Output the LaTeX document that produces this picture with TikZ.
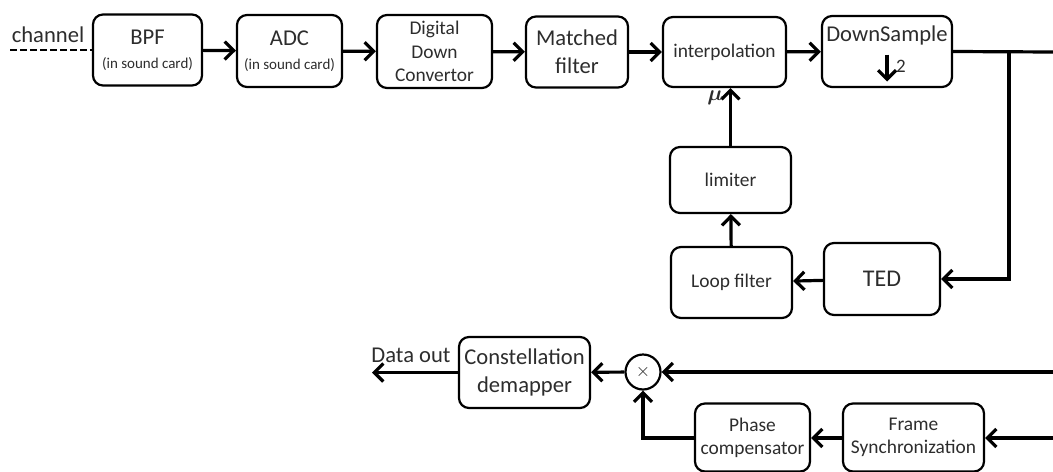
\documentclass[tikz,border=0pt]{standalone}
\usepackage{amsmath}
\usepackage{fontspec}
\setmainfont{Carlito}
\usepackage{tikz}
\usetikzlibrary{arrows.meta, positioning, calc}
\definecolor{mytext}{RGB}{45,45,45}
\tikzset{
  block/.style={rectangle, draw=black, fill=white, rounded corners=5pt,
    line width=1.1pt, align=center, inner sep=1pt, text=mytext,
    font=\fontsize{11.3}{14}\selectfont},
  midblock/.style={block, font=\fontsize{9.7}{11.6}\selectfont},
  mult/.style={circle, draw=black, fill=white, line width=1.1pt,
    minimum size=17.5pt, inner sep=0pt, text=mytext},
  lbl/.style={text=mytext, inner sep=0pt, font=\fontsize{11.3}{14}\selectfont},
  arrow/.style={-{Straight Barb[length=4.5pt, width=9pt, line width=1.6pt]},
    line width=1.6pt},
  line/.style={line width=1.6pt}
}

\begin{document}
\begin{tikzpicture}[x=0.5pt, y=-0.5pt]
  \clip (0,0) rectangle (1053,471);

  % ── Front end ─────────────────────────────────────────────────────
  \node[block, minimum width=54.5pt, minimum height=35.5pt] (bpf) at (147.5,50)
    {BPF\\[-2pt]{\fontsize{7.5}{9}\selectfont (in sound card)}};
  \node[block, minimum width=52.5pt, minimum height=36pt] (adc) at (289.5,51)
    {ADC\\[-2pt]{\fontsize{7.5}{9}\selectfont (in sound card)}};
  \node[midblock, minimum width=57.5pt, minimum height=36.5pt] (ddc) at (434.5,51.5)
    {Digital\\Down\\Convertor};
  \node[block, minimum width=51pt, minimum height=35.5pt] (mf) at (577,52)
    {Matched\\filter};
  \node[midblock, minimum width=61.5pt, minimum height=35pt] (interp) at (724.5,52)
    {interpolation};
  \node[block, minimum width=65pt, minimum height=35.5pt] (down) at (887,51.5) {};
  \node[lbl] (downtxt) at (887,35) {DownSample};
  \node[lbl, font=\fontsize{9.5}{11}\selectfont] (two) at (901,66) {2};
  \draw[arrow] ($(down.center)+(0,3)$) -- ++(0,27);

  % channel input
  \coordinate (chan) at (10,50);
  \node[lbl] (chantxt) at (48,35) {channel};
  \draw[line width=1.4pt, dash pattern=on 3.5pt off 1.5pt] (chan) -- (bpf.west);

  \draw[arrow] (bpf) -- (adc);
  \draw[arrow] (adc) -- (ddc);
  \draw[arrow] (ddc) -- (mf);
  \draw[arrow] (mf) -- (interp);
  \draw[arrow] (interp) -- (down);

  % ── Timing loop ───────────────────────────────────────────────────
  \node[midblock, minimum width=60.5pt, minimum height=33pt] (lim) at (730.5,180)
    {limiter};
  \node[midblock, minimum width=60.5pt, minimum height=35.5pt] (loop) at (731.5,282.5)
    {Loop filter};
  \node[block, font=\fontsize{12}{14}\selectfont, minimum width=58pt,
    minimum height=36pt] (ted) at (882,279) {TED};

  \coordinate (tap) at (1009,52);
  \coordinate (edge1) at (1053,52);
  \draw[line] (down.east) -- (edge1);
  \draw[arrow] (tap) |- (ted.east);
  \draw[arrow] (ted) -- (loop);
  \draw[arrow] (loop) -- (lim);
  \draw[arrow] (lim.north) -- (lim.north |- interp.south);
  \node[lbl] (mu) at (715,98) {$\boldsymbol{\mu}$};

  % ── Back end ──────────────────────────────────────────────────────
  \node[block, minimum width=65.5pt, minimum height=35.5pt] (demap) at (524.5,372.5)
    {Constellation\\demapper};
  \node[mult] (x) at (643,372) {\fontsize{9}{10}\selectfont$\times$};
  \node[midblock, minimum width=57.5pt, minimum height=34pt] (phase) at (752.5,437.5)
    {Phase\\compensator};
  \node[midblock, minimum width=70.5pt, minimum height=34pt] (frame) at (913.5,437.5)
    {Frame\\Synchronization};

  \coordinate (edge2) at (1053,372);
  \coordinate (edge3) at (1053,438);
  \coordinate (out) at (372,372.5);
  \node[lbl] (outtxt) at (411,355) {Data out};

  \draw[arrow] (edge2) -- (x);
  \draw[arrow] (x) -- (demap);
  \draw[arrow] (demap) -- (out);
  \draw[arrow] (edge3) -- (frame.east |- edge3);
  \draw[arrow] (frame.west |- edge3) -- (phase.east |- edge3);
  \draw[arrow] (phase.west |- edge3) -| (x.south);
\end{tikzpicture}
\end{document}
